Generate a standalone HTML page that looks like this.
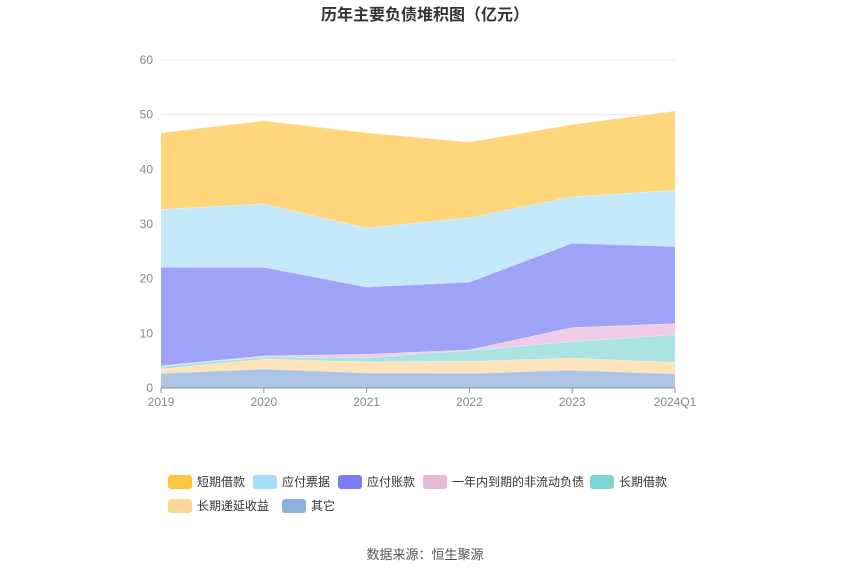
<!DOCTYPE html>
<html><head><meta charset="utf-8"><style>
body{margin:0;background:#fff;font-family:"Liberation Sans","Noto Sans CJK SC",sans-serif}
svg{display:block}
</style></head><body>
<svg id="chart" width="850" height="575" font-family="Liberation Sans, Noto Sans CJK SC, sans-serif">
<text x="425" y="20" text-anchor="middle" font-size="16" font-weight="bold" fill="#333">历年主要负债堆积图（亿元）</text>
<g id="grid"></g><g id="areas"></g><g id="axes"></g><g id="legend"></g>
<text x="425" y="559" text-anchor="middle" font-size="13" fill="#555">数据来源：恒生聚源</text>
</svg>
<script>
const categories=["2019","2020","2021","2022","2023","2024Q1"];
const seriesNames=["其它","长期递延收益","长期借款","一年内到期的非流动负债","应付账款","应付票据","短期借款"];
const other=[2.7,3.5,2.8,2.7,3.3,2.6];
const deferredIncome=[0.8,1.8,2.0,2.2,2.2,2.1];
const longLoan=[0.5,0.4,0.8,2.0,3.0,5.1];
const currentNonCurrent=[0.1,0.2,0.6,0.1,2.6,2.0];
const accountsPayable=[18.0,16.2,12.3,12.4,15.4,14.1];
const notesPayable=[10.6,11.6,10.8,11.8,8.5,10.3];
const shortLoan=[14.0,15.2,17.4,13.8,13.2,14.5];
const yTicks=[0,10,20,30,40,50,60];
const series=[other,deferredIncome,longLoan,currentNonCurrent,accountsPayable,notesPayable,shortLoan];
const fills=["#aec4e6","#fde3b9","#abe2e2","#efcde6","#9fa3f8","#c4e9fb","#ffd67c"];
const swatch=["#8eaedc","#ffd699","#80d4d6","#e8b8d8","#7a7ef2","#a5ddfa","#ffc641"];
const slugs=["other","deferred-income","long-term-loan","current-noncurrent-liab","accounts-payable","notes-payable","short-term-loan"];
const NS="http://www.w3.org/2000/svg";
const x0=161,x1=675,yB=388,yT=60;
const xS=i=>x0+(x1-x0)*i/(categories.length-1);
const yS=v=>yB-(yB-yT)*v/60;
function mk(t,a,p){const e=document.createElementNS(NS,t);for(const k in a)e.setAttribute(k,a[k]);p.appendChild(e);return e;}
const grid=document.getElementById('grid'),axes=document.getElementById('axes'),areas=document.getElementById('areas'),legend=document.getElementById('legend');
yTicks.forEach(v=>{
 const l=mk('line',{x1:x0,x2:x1,y1:yS(v),y2:yS(v),stroke:'#e6e9ef'},grid);
 
 
 const t=mk('text',{x:153,y:yS(v)+4,'text-anchor':'end','font-size':12,fill:'#888'},axes);t.textContent=v;
 
 
});
let base=categories.map(()=>0);
series.forEach((s,k)=>{
 const top=base.map((b,i)=>b+s[i]);
 let d='M'+top.map((v,i)=>xS(i)+','+yS(v)).join('L');
 for(let i=categories.length-1;i>=0;i--)d+='L'+xS(i)+','+yS(base[i]);
 const p=mk('path',{d:d+'Z',fill:fills[k],stroke:'none'},areas);
 
 
 const ln=mk('polyline',{points:top.map((v,i)=>xS(i)+','+yS(v)).join(' '),fill:'none',stroke:'rgba(255,255,255,0.5)','stroke-width':1},areas);
 
 
 base=top;
});
const ax=mk('line',{x1:x0,x2:x1,y1:yB,y2:yB,stroke:'#8a93a6'},axes);


categories.forEach((c,i)=>{
 const tk=mk('line',{x1:xS(i),x2:xS(i),y1:yB,y2:yB+5,stroke:'#8a93a6'},axes);
 
 
 const t=mk('text',{x:xS(i),y:yB+18,'text-anchor':'middle','font-size':12,fill:'#888'},axes);t.textContent=c;
 
 
});
const legOrder=[6,5,4,3,2,1,0];
const legPos=[[168,482],[253,482],[338,482],[423,482],[590,482],[168,506],[282,506]];
legOrder.forEach((k,j)=>{
 const [lx,ly]=legPos[j];
 const g=mk('g',{},legend);
 
 
 mk('rect',{x:lx,y:ly-7,width:24,height:14,rx:3,fill:swatch[k]},g);
 const t=mk('text',{x:lx+29,y:ly+4,'font-size':12,fill:'#333'},g);t.textContent=seriesNames[k];
});
</script>
</body></html>
